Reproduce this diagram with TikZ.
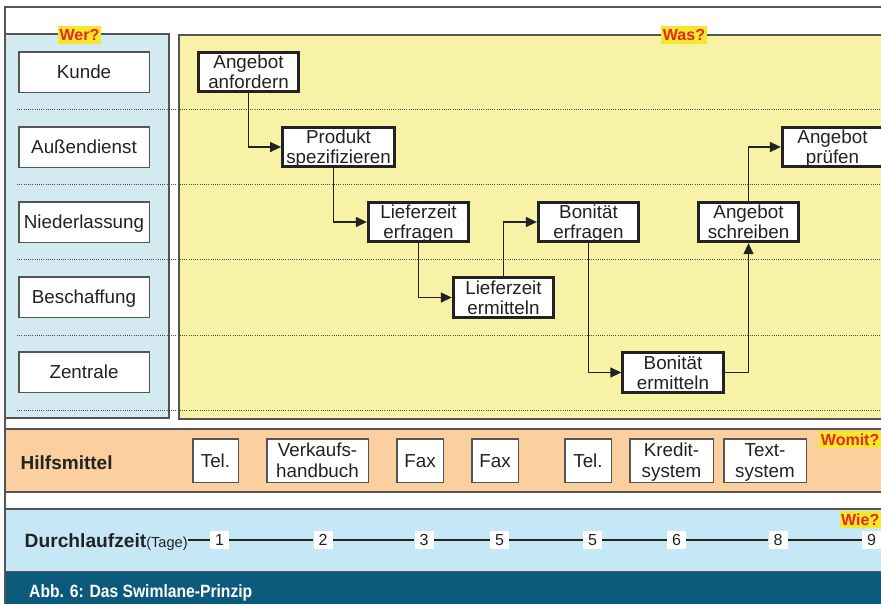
\documentclass[tikz,border=0pt]{standalone}
\usepackage{fontspec}
\setmainfont{Liberation Sans}
\newfontfamily\capfont[FakeStretch=0.88]{Liberation Sans}
\usetikzlibrary{arrows.meta}

\definecolor{lanecyan}{HTML}{D3EBF0}
\definecolor{laneyellow}{HTML}{F7F2A6}
\definecolor{toolorange}{HTML}{FBCF9E}
\definecolor{timeblue}{HTML}{C6E8F6}
\definecolor{captionblue}{HTML}{0C5A7B}
\definecolor{tagyellow}{HTML}{F3E829}
\definecolor{tagred}{HTML}{E8262B}
\definecolor{framegray}{HTML}{555555}
\definecolor{ink}{HTML}{222222}

\begin{document}
\begin{tikzpicture}[x=1pt,y=-1pt,
  panel/.style={draw=framegray,line width=1.3pt},
  rolebox/.style={draw=framegray,line width=1.5pt,fill=white,
    minimum width=130.5pt,minimum height=40.5pt,inner sep=0pt,
    font=\fontsize{18.8}{20}\selectfont,text height=13.4pt,text depth=0pt,text=ink},
  taskbox/.style={draw=ink,line width=2.8pt,fill=white,
    minimum width=100.5pt,minimum height=39.5pt,inner sep=0pt,align=center,
    font=\fontsize{18.8}{19.8}\selectfont,text height=33.3pt,text depth=0pt,text=ink},
  toolbox/.style={draw=framegray,line width=1.5pt,fill=white,
    minimum height=43.5pt,inner sep=0pt,align=center,
    font=\fontsize{18.8}{20.6}\selectfont,text depth=0pt,text=ink},
  tooltwo/.style={toolbox,text height=34pt},
  toolone/.style={toolbox,text height=13.4pt},
  tagbox/.style={fill=tagyellow,text=tagred,font=\bfseries\fontsize{16}{16}\selectfont,
    inner xsep=1.5pt,inner ysep=3pt,text height=11.5pt,text depth=0pt},
  flowarrow/.style={draw=ink,line width=1.3pt,-{Triangle[length=11pt,width=10pt]}},
  laneline/.style={draw=black!70,line width=0.7pt,dash pattern=on 1pt off 1.2pt},
  daybox/.style={fill=white,minimum width=19pt,minimum height=18pt,inner sep=0pt,
    font=\fontsize{16}{16}\selectfont,text=ink},
]
\useasboundingbox (0,0) rectangle (881,603);
\clip (0,0) rectangle (881,603);

% panels and bands
\filldraw[panel,fill=lanecyan] (5,34) rectangle (169,418);
\filldraw[panel,fill=laneyellow] (179,35) rectangle (895,419);
\filldraw[panel,fill=toolorange] (5,429) rectangle (895,492);
\filldraw[panel,fill=timeblue] (5,509) rectangle (895,572);
\fill[captionblue] (5,572) rectangle (895,610);
\draw[framegray,line width=1.3pt] (5,610) -- (5,7) -- (895,7);

% lane separators
\foreach \ly in {109,184,259,335,410}
  \draw[laneline] (17,\ly) -- (881,\ly);

% roles
\node[rolebox] (r1) at (84,72) {Kunde};
\node[rolebox] (r2) at (84,147) {Außendienst};
\node[rolebox] (r3) at (84,222) {Niederlassung};
\node[rolebox] (r4) at (84,297) {Beschaffung};
\node[rolebox] (r5) at (84,372) {Zentrale};

% process steps
\node[taskbox] (a1) at (248.5,72) {Angebot\\anfordern};
\node[taskbox,minimum width=112pt] (a2) at (338.5,147) {Produkt\\spezifizieren};
\node[taskbox] (a3) at (418.5,222) {Lieferzeit\\erfragen};
\node[taskbox] (a4) at (503.5,297.5) {Lieferzeit\\ermitteln};
\node[taskbox] (a5) at (588.5,222) {Bonität\\erfragen};
\node[taskbox] (a6) at (673,372.5) {Bonität\\ermitteln};
\node[taskbox] (a7) at (748.5,222) {Angebot\\schreiben};
\node[taskbox] (a8) at (832.5,147) {Angebot\\prüfen};

% flow
\draw[flowarrow] (a1.south) |- (a2.west);
\draw[flowarrow] ([xshift=-5pt]a2.south) |- (a3.west);
\draw[flowarrow] (a3.south) |- (a4.west);
\draw[flowarrow] (a4.north) |- (a5.west);
\draw[flowarrow] (a5.south) |- (a6.west);
\draw[flowarrow] (a6.east) -| (a7.south);
\draw[flowarrow] (a7.north) |- (a8.west);

% question tags
\node[tagbox] (wer) at (79.5,35) {Wer?};
\node[tagbox] (was) at (684,35) {Was?};
\node[tagbox,anchor=east] (womit) at (881,439.5) {Womit?};
\node[tagbox,anchor=east] (wie) at (881,519.5) {Wie?};

% tools
\node[anchor=base west,inner sep=0pt,text=ink,font=\bfseries\fontsize{19}{20}\selectfont] (hm) at (20.5,469) {Hilfsmittel};
\node[toolone,minimum width=45.5pt] (h1) at (215.5,460.5) {Tel.};
\node[tooltwo,minimum width=101.5pt] (h2) at (317.5,460.5) {Verkaufs-\\handbuch};
\node[toolone,minimum width=46.5pt] (h3) at (420,460.5) {Fax};
\node[toolone,minimum width=46.5pt] (h4) at (495,460.5) {Fax};
\node[toolone,minimum width=46.5pt] (h5) at (588,460.5) {Tel.};
\node[tooltwo,minimum width=83.5pt] (h6) at (671.5,460.5) {Kredit-\\system};
\node[tooltwo,minimum width=82.5pt] (h7) at (765,460.5) {Text-\\system};

% lead time
\node[anchor=base west,inner sep=0pt,text=ink,font=\bfseries\fontsize{19.2}{20}\selectfont] (dz) at (24.5,547)
  {Durchlaufzeit{\mdseries\fontsize{14.6}{15}\selectfont(Tage)}};
\foreach \i/\px/\d in {1/219.5/1,2/323/2,3/424/3,4/499.5/5,5/592.5/5,6/676.5/6,7/778/8,8/871.5/9}
  \node[daybox] (n\i) at (\px,540) {\d};
\draw[ink,line width=1.2pt] (dz.east |- n1.west) -- (n1.west);
\foreach \i [evaluate=\i as \j using int(\i+1)] in {1,...,7}
  \draw[ink,line width=1.2pt] (n\i.east) -- (n\j.west);

% caption
\node[anchor=base west,inner sep=0pt,text=white,font=\capfont\bfseries\fontsize{17.8}{18}\selectfont] (cap) at (29,597)
  {Abb. 6: Das Swimlane-Prinzip};
\end{tikzpicture}
\end{document}
